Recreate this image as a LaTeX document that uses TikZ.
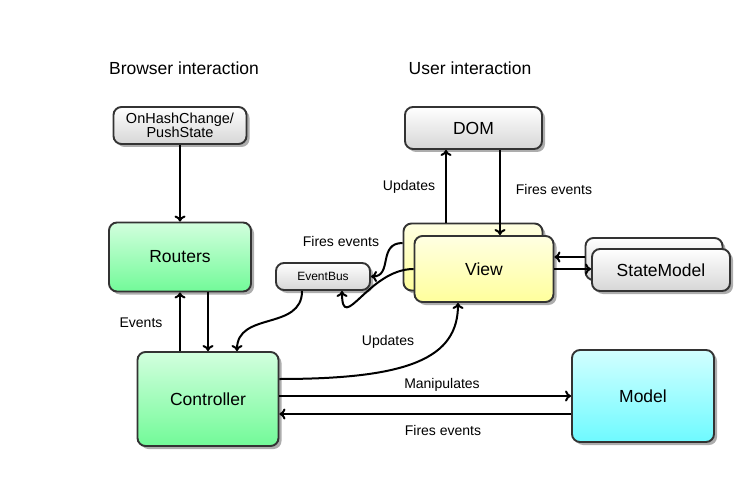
\documentclass[tikz,border=0pt]{standalone}
\usepackage{fontspec}
\setmainfont{Liberation Sans}
\usepackage{tikz}
\usetikzlibrary{arrows.meta,shadows}
\definecolor{boxLine}{HTML}{333333}
\definecolor{greyTop}{HTML}{FFFFFF}
\definecolor{greyBot}{HTML}{D6D6D6}
\definecolor{greenTop}{HTML}{D2FFDE}
\definecolor{greenBot}{HTML}{72FA98}
\definecolor{cyanTop}{HTML}{D2FFFF}
\definecolor{cyanBot}{HTML}{6EFAFF}
\definecolor{yellowTop}{HTML}{FFFFE2}
\definecolor{yellowBot}{HTML}{FFFF9C}

\begin{document}
\begin{tikzpicture}[x=1pt, y=-1pt,
        box/.style={draw=boxLine, line width=1.9pt, rounded corners=8pt, inner sep=0pt,
            drop shadow={shadow xshift=3pt, shadow yshift=-3pt, fill=black!32, opacity=1},
            font=\fontsize{17.5}{20}\selectfont},
        greybox/.style={box, top color=greyTop, bottom color=greyBot},
        greenbox/.style={box, top color=greenTop, bottom color=greenBot},
        cyanbox/.style={box, top color=cyanTop, bottom color=cyanBot},
        yellowbox/.style={box, top color=yellowTop, bottom color=yellowBot},
        conn/.style={line width=2pt, -{Computer Modern Rightarrow[length=6pt,width=11pt]}},
        lbl/.style={font=\fontsize{14}{16}\selectfont},
        head/.style={font=\fontsize{17.5}{20}\selectfont}]
                \useasboundingbox (0,0) rectangle (749,478);
                % column titles
                \node[head] (browser) at (184,68) {Browser interaction};
                \node[head] (user) at (470,68) {User interaction};
                % boxes
                \node[greybox, minimum width=133pt, minimum height=37pt, align=center,
                    font=\fontsize{14.5}{14}\selectfont] (hash) at (180,125.5) {OnHashChange/\\PushState};
                \node[greybox, minimum width=137pt, minimum height=42pt] (dom) at (473.5,128) {DOM};
                \node[greenbox, minimum width=142pt, minimum height=69pt] (routers) at (180,257) {Routers};
                \node[greenbox, minimum width=141pt, minimum height=94pt] (controller) at (208,399) {Controller};
                \node[cyanbox, minimum width=142pt, minimum height=92pt] (model) at (643,396) {Model};
                \node[yellowbox, minimum width=139pt, minimum height=67pt] (viewback) at (473,257) {};
                \node[yellowbox, minimum width=139pt, minimum height=66pt] (view) at (484,269) {View};
                \node[greybox, minimum width=137pt, minimum height=42pt] (smback) at (654,259) {};
                \node[greybox, minimum width=138pt, minimum height=42pt] (sm) at (661,270) {StateModel};
                \node[greybox, minimum width=94pt, minimum height=27pt,
                    font=\fontsize{12}{14}\selectfont] (eventbus) at (323,276.5) {EventBus};
                % connectors
                \draw[conn] (hash.south) -- (routers.north);
                \draw[conn] (routers.south |- controller.north) -- (routers.south);
                \draw[conn] (routers.south -| controller.north) -- (controller.north);
                \draw[conn] ([xshift=-21pt]eventbus.south) .. controls +(0,40) and +(0,-40) .. ([xshift=29pt]controller.north);
                \draw[conn] ([yshift=14pt]viewback.west) .. controls +(-25,0) and +(22,0) .. (eventbus.east);
                \draw[conn] (view.west) .. controls +(-45,0) and +(0,45) .. ([xshift=19pt]eventbus.south);
                \draw[conn] ([yshift=20pt]controller.east) .. controls +(130,0) and +(0,55) .. ([xshift=-26pt]view.south);
                \draw[conn] (model.west -| controller.east) -- (model.west);
                \draw[conn] ([yshift=-18pt]model.west) -- ([yshift=-18pt]model.west -| controller.east);
                \draw[conn] ([xshift=-27pt]viewback.north) -- ([xshift=-27pt]viewback.north |- dom.south);
                \draw[conn] ([xshift=16pt]view.north |- dom.south) -- ([xshift=16pt]view.north);
                \draw[conn] ([yshift=2pt]smback.west) -- ([yshift=2pt]smback.west -| view.east);
                \draw[conn] (view.east) -- (view.east -| sm.west);
                % connector labels
                \node[lbl] (domupd) at (409,187) {Updates};
                \node[lbl] (domfire) at (554,189) {Fires events};
                \node[lbl] (busfire) at (341,241) {Fires events};
                \node[lbl] (events) at (141,323) {Events};
                \node[lbl] (viewupd) at (388,342) {Updates};
                \node[lbl] (manip) at (442,385) {Manipulates};
                \node[lbl] (modfire) at (443,430) {Fires events};
            \end{tikzpicture}
\end{document}
